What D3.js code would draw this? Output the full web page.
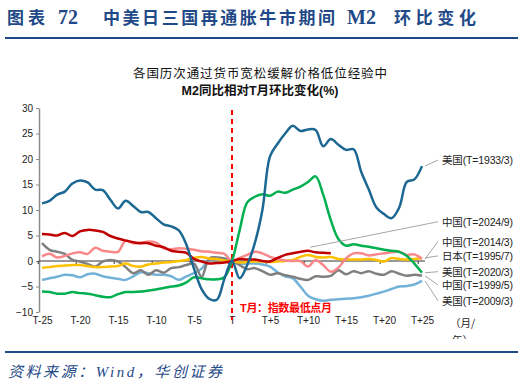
<!DOCTYPE html>
<meta charset="utf-8">
<script src="https://d3js.org/d3.v7.min.js"></script>
<style>
  body { margin: 0; background: #fff; }
  svg { display: block; }
</style>
<div id="chart"></div>
<script>
  // months relative to T (the lowest point month)
  var months = d3.range(-25, 26);

  // M2 yoy change relative to month T (%)
  var us1933 = [11.3, 11.8, 13.0, 13.6, 15.2, 15.8, 15.4, 14.0, 13.9, 12.0, 10.3, 11.8, 10.8, 9.6, 9.6, 8.4, 7.2, 6.8, 6.0, 3.2, -1.5, -5.5, -7.4, -7.6, -3.5,
    0, -3.4, -0.8, 3.5, 10.0, 20.5, 23.0, 25.0, 26.5, 25.5, 25.8, 25.7, 22.5, 23.9, 22.8, 21.8, 21.9, 17.5, 14.0, 10.5, 9.2, 8.4, 10.5, 15.5, 16.0, 18.6];
  var cn2024 = [5.3, 5.2, 5.0, 5.5, 4.9, 5.8, 6.1, 6.0, 5.7, 4.9, 4.4, 4.0, 3.7, 3.5, 3.5, 3.0, 2.7, 2.0, 1.8, 1.6, 0.4, -0.1, -0.5, -0.4, -0.3,
    0, 0.4, 0.3, 0.3, 0.0, -0.1, 0.6, 1.2, 1.5, 1.8, 2.0, 1.7, 1.6, 1.5];
  var cn2014 = [0.9, 1.4, 0.7, 1.0, 1.5, 1.7, 1.4, 2.6, 2.0, 1.8, 1.8, 4.0, 3.5, 3.6, 3.8, 3.6, 2.5, 2.3, 2.5, 2.4, 2.2, 1.9, 1.8, 1.6, 1.4,
    0, 0.6, 1.2, 1.8, 1.5, 0.8, 0.4, 0.1, 0.0, 0.0, -1.1, 0.2, -0.8, -2.1, -1.3, 0.5, 1.5, 1.5, 1.1, 1.3, 1.5, 1.7, 1.8, 1.2, 1.3, 0.4];
  var jp1995 = [-1.3, -1.2, -1.0, -0.9, -0.8, -0.8, -1.0, -1.2, -1.2, -1.1, -1.0, -0.5, -1.0, -1.1, -0.7, -0.5, -0.3, -0.2, 0.0, 0.2, 0.6, 0.8, 0.5, 0.4, 0.1,
    0, -0.3, -0.2, -0.1, -0.1, -0.2, -0.1, 0.0, 0.2, 0.8, 1.2, 0.8, 0.7, 0.8, 0.4, 0.3, 0.3, 0.3, 0.4, 0.2, -0.1, 0.6, 0.4, 0.3, 0.4, 0.6];
  var us2020 = [-6.0, -6.1, -6.4, -6.4, -6.1, -6.3, -6.4, -6.7, -7.0, -7.1, -6.5, -6.1, -6.1, -6.0, -5.8, -5.6, -5.3, -5.0, -4.8, -4.2, -3.2, -3.4, -3.6, -3.6, -3.2,
    0, 6.0, 11.5, 12.6, 13.1, 12.8, 13.6, 13.4, 14.0, 14.6, 15.5, 16.6, 13.0, 8.0, 4.3, 3.0, 3.3, 3.0, 2.8, 2.5, 2.2, 2.0, 1.8, 1.0, -0.5, -2.3];
  var cn1999 = [3.5, 2.2, 1.8, 1.4, 0.2, -0.1, -0.6, -1.1, -0.1, 0.2, -0.1, -1.2, -2.4, -1.8, -2.7, -1.8, -2.3, -1.4, -1.2, -0.8, -0.5, -3.1, 0.5, 0.7, 0.5,
    0, -0.8, -1.6, -1.4, -2.0, -2.7, -2.4, -2.8, -3.1, -3.5, -3.7, -3.0, -3.1, -2.9, -1.8, -2.6, -2.0, -2.4, -2.0, -2.5, -2.7, -2.0, -2.5, -2.9, -2.7, -2.9];
  var us2009 = [-3.7, -3.4, -3.1, -2.7, -2.8, -3.2, -2.6, -2.5, -3.0, -3.3, -3.5, -3.7, -3.0, -2.2, -2.4, -2.7, -2.7, -3.0, -3.7, -3.0, -2.4, -1.5, 0.3, 0.6, 0.4,
    0, -0.5, -0.5, -0.5, -0.7, -1.1, -2.2, -3.0, -3.4, -5.0, -6.8, -7.5, -7.8, -7.6, -7.5, -7.4, -7.3, -7.1, -6.8, -6.4, -6.0, -5.5, -5.0, -4.9, -4.6, -3.9];

  var seriesNames = ["美国(T=2009/3)", "中国(T=1999/5)", "日本(T=1995/7)", "中国(T=2014/3)", "中国(T=2024/9)", "美国(T=2020/3)", "美国(T=1933/3)"];
  var seriesValues = [us2009, cn1999, jp1995, cn2014, cn2024, us2020, us1933];
  var seriesColors = ["#72b2d8", "#808080", "#ffc000", "#f8888a", "#c00000", "#00b050", "#1c6893"];
  // names on the right, top to bottom, with their height in value units
  var labelOrder = ["美国(T=1933/3)", "中国(T=2024/9)", "中国(T=2014/3)", "日本(T=1995/7)", "美国(T=2020/3)", "中国(T=1999/5)", "美国(T=2009/3)"];
  var labelPos = [19.8, 7.7, 3.8, 1.0, -2.1, -4.7, -7.8];

  var yTicks = [30, 25, 20, 15, 10, 5, 0, -5, -10];
  var xTicks = [-25, -20, -15, -10, -5, 0, 5, 10, 15, 20, 25];
  var xTickText = function(m) { return m === 0 ? "T" : (m > 0 ? "T+" + m : "T" + m); };

  var width = 524, height = 387;
  var navy = "#1f4a87";

  var svg = d3.select("#chart").append("svg")
    .attr("width", width)
    .attr("height", height);

  // page title
  var title = svg.append("text")
    .attr("y", 24)
    .attr("fill", navy)
    .attr("font-weight", "bold")
    .attr("font-size", 17)
    .attr("font-family", "'Liberation Serif', 'Noto Sans CJK SC', serif");
  title.append("tspan").attr("x", 7).attr("textLength", 38).text("图表");
  title.append("tspan").attr("x", 58).attr("font-size", 20).text("72");
  title.append("tspan").attr("x", 103).attr("font-size", 17).attr("textLength", 232).text("中美日三国再通胀牛市期间");
  title.append("tspan").attr("x", 347).attr("font-size", 20).text("M2");
  title.append("tspan").attr("x", 394).attr("font-size", 17).attr("textLength", 82).text("环比变化");

  svg.append("line")
    .attr("x1", 5).attr("x2", 518).attr("y1", 38).attr("y2", 38)
    .attr("stroke", navy).attr("stroke-width", 2);

  // chart title
  svg.append("text")
    .attr("x", 260).attr("y", 78)
    .attr("text-anchor", "middle")
    .attr("font-size", 12.5)
    .attr("font-family", "'Noto Sans CJK SC', sans-serif")
    .attr("fill", "#111")
    .attr("textLength", 254)
    .text("各国历次通过货币宽松缓解价格低位经验中");
  svg.append("text")
    .attr("x", 260).attr("y", 95)
    .attr("text-anchor", "middle")
    .attr("font-size", 12.5)
    .attr("font-weight", "bold")
    .attr("font-family", "'Liberation Sans', 'Noto Sans CJK SC', sans-serif")
    .attr("fill", "#111")
    .text("M2同比相对T月环比变化(%)");

  var x = d3.scaleLinear().domain([-25, 25]).range([42, 422]);
  var y = d3.scaleLinear().domain([-10, 30]).range([312, 108]);

  // y axis
  var yAxis = svg.append("g")
    .attr("transform", "translate(" + (x(-25) - 3) + ",0)")
    .call(d3.axisLeft(y).tickValues(yTicks).tickSize(3).tickPadding(3).tickSizeOuter(0));
  yAxis.select(".domain").attr("stroke", "#8c8c8c").attr("stroke-width", 1.5);
  yAxis.selectAll(".tick line").attr("stroke", "#8c8c8c");
  yAxis.selectAll("text")
    .attr("font-size", 10)
    .attr("font-family", "'Liberation Sans', Arial, sans-serif")
    .attr("fill", "#222");

  // zero line with category ticks
  svg.append("line")
    .attr("x1", x(-25) - 3).attr("x2", x(25) + 3)
    .attr("y1", y(0)).attr("y2", y(0))
    .attr("stroke", "#333").attr("stroke-width", 1);
  svg.append("g").selectAll("line")
    .data(d3.range(-25.5, 25, 5))
    .enter().append("line")
    .attr("x1", function(d) { return x(d); })
    .attr("x2", function(d) { return x(d); })
    .attr("y1", y(0)).attr("y2", y(0) + 3)
    .attr("stroke", "#333");

  // x labels at the bottom
  var xAxis = svg.append("g")
    .attr("transform", "translate(0,317)")
    .call(d3.axisBottom(x).tickValues(xTicks).tickFormat(xTickText).tickSize(0).tickPadding(0));
  xAxis.select(".domain").remove();
  xAxis.selectAll("text")
    .attr("font-size", 10)
    .attr("font-family", "'Liberation Sans', Arial, sans-serif")
    .attr("fill", "#222");

  // T month marker
  svg.append("line")
    .attr("x1", x(0)).attr("x2", x(0))
    .attr("y1", 110).attr("y2", 320)
    .attr("stroke", "#ff0000").attr("stroke-width", 2)
    .attr("stroke-dasharray", "5,4");
  svg.append("text")
    .attr("x", 240).attr("y", 312)
    .attr("fill", "#ff0000")
    .attr("font-weight", "bold")
    .attr("font-size", 11)
    .attr("font-family", "'Liberation Sans', 'Noto Sans CJK SC', sans-serif")
    .attr("textLength", 92)
    .text("T月：指数最低点月");

  // series lines
  var line = d3.line()
    .x(function(d, i) { return x(months[i]); })
    .y(function(d) { return y(d); })
    .curve(d3.curveCatmullRom.alpha(0.5));

  svg.append("g").selectAll("path")
    .data(seriesValues)
    .enter().append("path")
    .attr("d", line)
    .attr("fill", "none")
    .attr("stroke", function(d, i) { return seriesColors[i]; })
    .attr("stroke-width", 2.5)
    .attr("stroke-linejoin", "round");

  // leader lines and names on the right
  var labels = labelOrder.map(function(name, j) {
    var i = seriesNames.indexOf(name);
    var vals = seriesValues[i];
    var last = vals.length - 1;
    var ax = x(months[last]) + 3, ay = y(vals[last]);
    if (name === "中国(T=2024/9)") { ax = x(10.3); ay = y(2.7); }
    return { name: name, ax: ax, ay: ay, ly: y(labelPos[j]) };
  });

  svg.append("g").selectAll("line")
    .data(labels)
    .enter().append("line")
    .attr("x1", function(d) { return d.ax; })
    .attr("y1", function(d) { return d.ay; })
    .attr("x2", 438)
    .attr("y2", function(d) { return d.ly; })
    .attr("stroke", "#a6a6a6").attr("stroke-width", 1);

  svg.append("g").selectAll("text")
    .data(labels)
    .enter().append("text")
    .attr("x", 442)
    .attr("y", function(d) { return d.ly + 4; })
    .attr("font-size", 10.5)
    .attr("font-family", "'Liberation Sans', 'Noto Sans CJK SC', sans-serif")
    .attr("fill", "#222")
    .attr("textLength", 71)
    .text(function(d) { return d.name; });

  // unit, cut off at the bottom like the source
  svg.append("clipPath").attr("id", "unitclip")
    .append("rect").attr("x", 440).attr("y", 310).attr("width", 80).attr("height", 29);
  var unit = svg.append("text")
    .attr("clip-path", "url(#unitclip)")
    .attr("font-size", 10.5)
    .attr("font-family", "'Noto Sans CJK SC', sans-serif")
    .attr("fill", "#222");
  unit.append("tspan").attr("x", 450).attr("y", 327).text("（月/");
  unit.append("tspan").attr("x", 452).attr("y", 344).text("年）");

  // footer
  svg.append("line")
    .attr("x1", 5).attr("x2", 518).attr("y1", 352).attr("y2", 352)
    .attr("stroke", navy).attr("stroke-width", 2);
  svg.append("text")
    .attr("x", 8).attr("y", 377)
    .attr("fill", navy)
    .attr("font-style", "italic")
    .attr("font-size", 15)
    .attr("font-family", "'Liberation Serif', 'Noto Sans CJK SC', serif")
    .attr("textLength", 214)
    .text("资料来源：Wind，华创证券");
</script>
